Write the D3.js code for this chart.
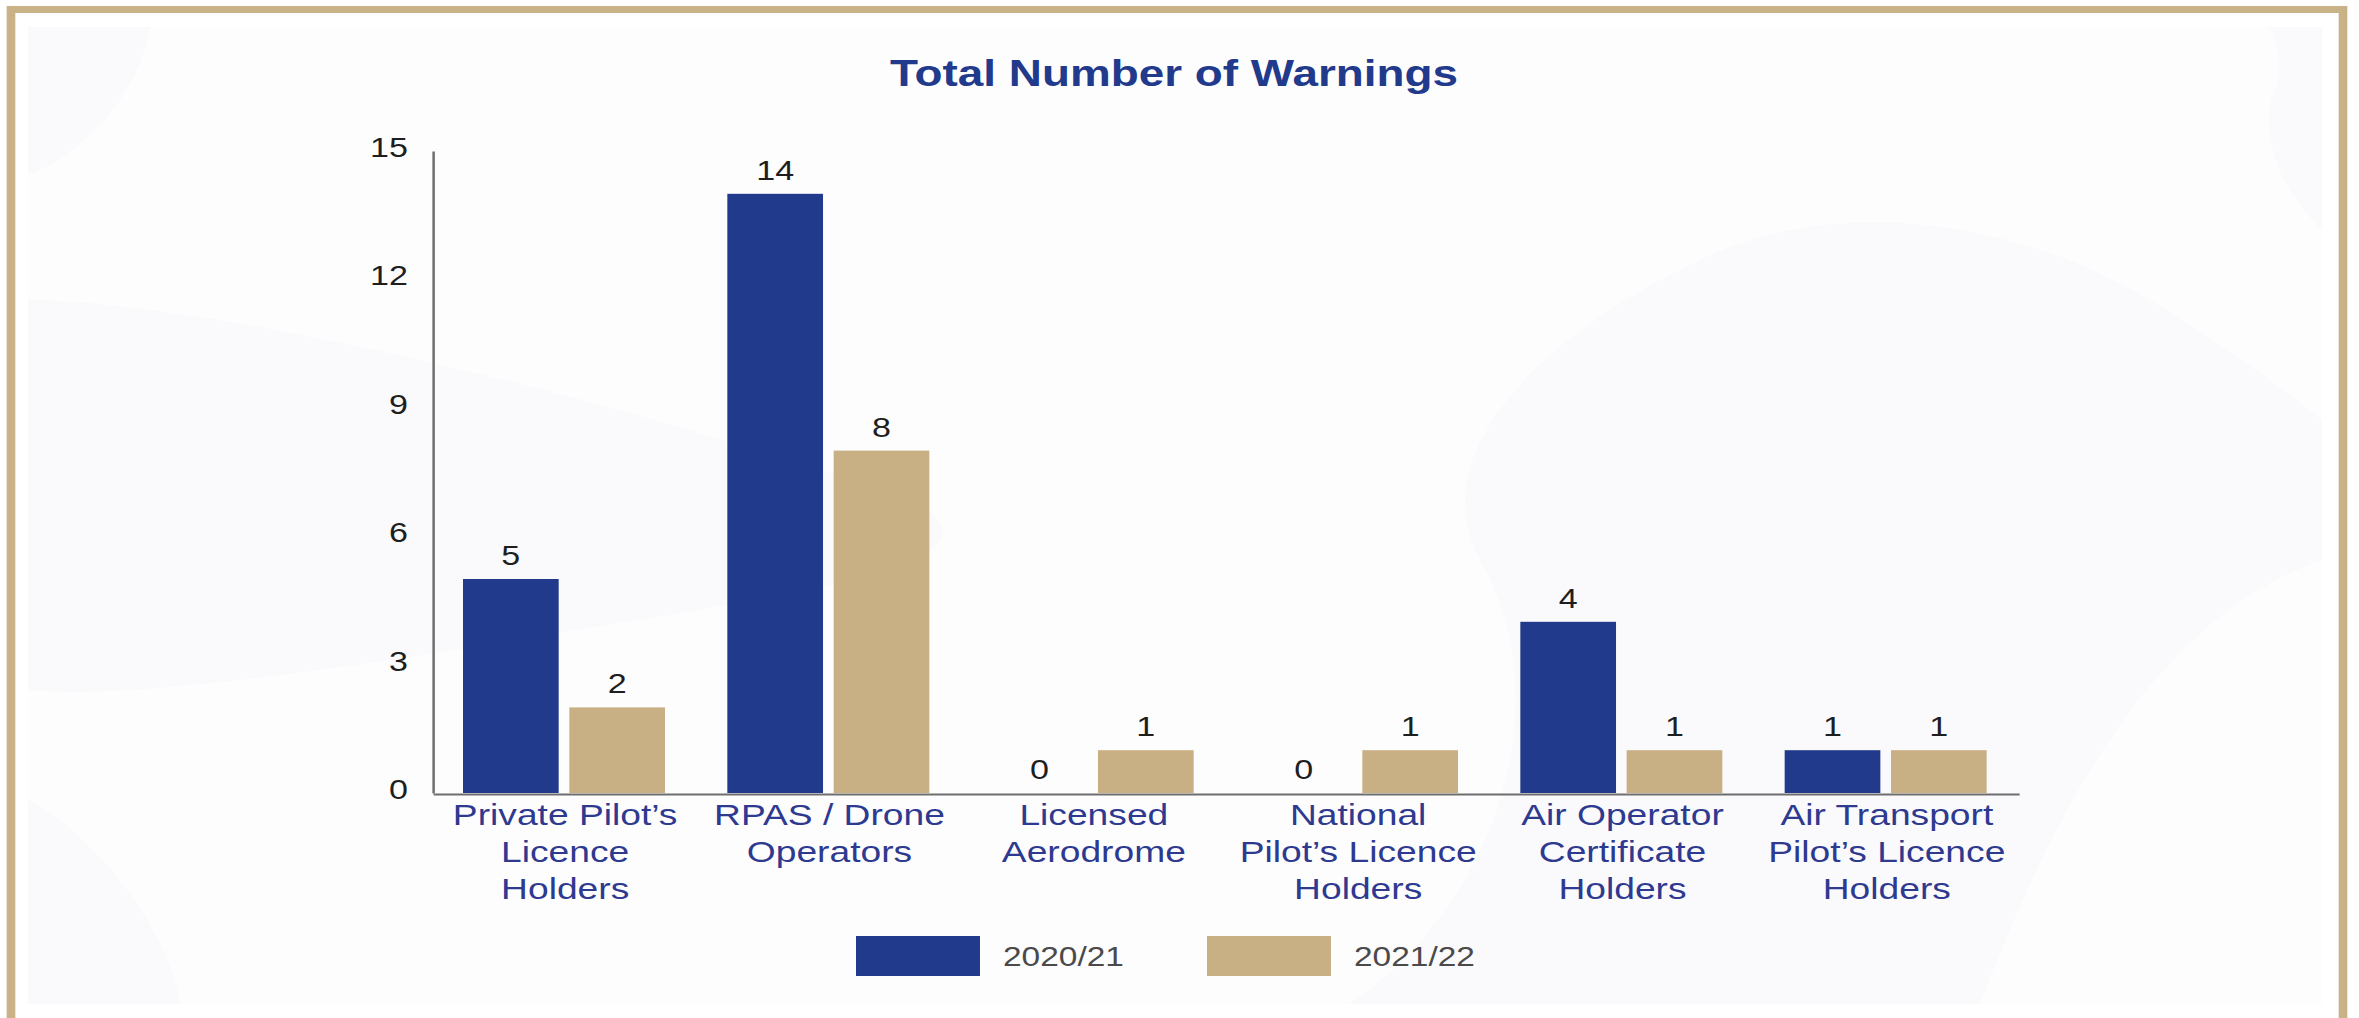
<!DOCTYPE html>
<html>
<head>
<meta charset="utf-8">
<script src="https://cdn.jsdelivr.net/npm/d3@7"></script>
<style>
  html, body { margin: 0; padding: 0; background: #ffffff; }
  svg { display: block; }
  text { font-family: "Liberation Sans", Arial, sans-serif; }
</style>
</head>
<body>
<div id="chart"></div>
<script>
// ---- data ----
const categories = [
  "Private Pilot’s Licence Holders",
  "RPAS / Drone Operators",
  "Licensed Aerodrome",
  "National Pilot’s Licence Holders",
  "Air Operator Certificate Holders",
  "Air Transport Pilot’s Licence Holders"
];
const categoryLines = [
  ["Private Pilot’s", "Licence", "Holders"],
  ["RPAS / Drone", "Operators"],
  ["Licensed", "Aerodrome"],
  ["National", "Pilot’s Licence", "Holders"],
  ["Air Operator", "Certificate", "Holders"],
  ["Air Transport", "Pilot’s Licence", "Holders"]
];
const seriesNames = ["2020/21", "2021/22"];
const values2020 = [5, 14, 0, 0, 4, 1];
const values2021 = [2, 8, 1, 1, 1, 1];
const yTicks = [0, 3, 6, 9, 12, 15];
const chartTitle = "Total Number of Warnings";

// ---- page geometry ----
const W = 2359, H = 1018;
const SX = 1.24;              // horizontal stretch of the drawing
const VW = W / SX;            // viewBox width
const fx = px => px / SX;     // page x -> viewBox x

const colors = { "2020/21": "#223A8B", "2021/22": "#C9B084" };

const svg = d3.select("#chart").append("svg")
  .attr("width", W).attr("height", H)
  .attr("viewBox", `0 0 ${VW} ${H}`)
  .attr("preserveAspectRatio", "none");

// faint decorative panel
const panel = svg.append("g");
panel.append("rect")
  .attr("x", fx(28)).attr("y", 27)
  .attr("width", fx(2322) - fx(28)).attr("height", 1004 - 27)
  .attr("fill", "#FDFDFE");
const waveFill = "#FAFAFC";
panel.append("path").attr("fill", waveFill)
  .attr("d", `M${fx(28)},27 L${fx(150)},27 C${fx(140)},90 ${fx(90)},150 ${fx(28)},175 Z`);
panel.append("path").attr("fill", waveFill)
  .attr("d", `M${fx(28)},${300} C${fx(160)},300 ${fx(480)},360 ${fx(820)},470 C${fx(1000)},520 ${fx(1000)},560 ${fx(700)},610 C${fx(400)},660 ${fx(160)},700 ${fx(28)},690 Z`);
panel.append("path").attr("fill", waveFill)
  .attr("d", `M${fx(28)},800 C${fx(90)},830 ${fx(170)},930 ${fx(180)},1004 L${fx(28)},1004 Z`);
panel.append("path").attr("fill", waveFill)
  .attr("d", `M${fx(1700)},260 C${fx(1820)},200 ${fx(2000)},210 ${fx(2150)},300 C${fx(2250)},360 ${fx(2322)},420 ${fx(2322)},420 L${fx(2322)},560 C${fx(2150)},620 ${fx(2050)},820 ${fx(1980)},1004 L${fx(1350)},1004 C${fx(1500)},900 ${fx(1560)},700 ${fx(1480)},560 C${fx(1420)},450 ${fx(1550)},330 ${fx(1700)},260 Z`);
panel.append("path").attr("fill", waveFill)
  .attr("d", `M${fx(2270)},27 L${fx(2322)},27 L${fx(2322)},230 C${fx(2270)},180 ${fx(2260)},120 ${fx(2275)},90 C${fx(2285)},60 ${fx(2275)},40 ${fx(2270)},27 Z`);

// gold frame
svg.append("rect")
  .attr("x", fx(11)).attr("y", 9.5)
  .attr("width", fx(2343) - fx(11)).attr("height", 1040)
  .attr("fill", "none")
  .attr("stroke", "#C9B286")
  .attr("stroke-width", 7);

// ---- scales ----
const plotLeft = 433, plotRight = 2019;
const yBase = 793, yTop = 151;

const x0 = d3.scaleBand()
  .domain(categories)
  .range([fx(plotLeft), fx(plotRight)])
  .padding(0);

const x1 = d3.scaleBand()
  .domain(seriesNames)
  .range([fx(30), fx(232)])
  .paddingInner(0.1)
  .paddingOuter(0);

const y = d3.scaleLinear().domain([0, 15]).range([yBase, yTop]);

const rows = categories.map((c, i) => ({
  category: c,
  lines: categoryLines[i],
  values: [
    { series: seriesNames[0], value: values2020[i] },
    { series: seriesNames[1], value: values2021[i] }
  ]
}));

// ---- title ----
svg.append("text")
  .attr("x", fx(1174)).attr("y", 86)
  .attr("text-anchor", "middle")
  .attr("font-size", 37)
  .attr("font-weight", "bold")
  .attr("fill", "#223A8B")
  .text(chartTitle);

// ---- y axis ----
const yAxis = svg.append("g")
  .attr("transform", `translate(${fx(plotLeft)},0)`)
  .call(d3.axisLeft(y).tickValues(yTicks).tickSize(0).tickPadding(fx(25)));
yAxis.select(".domain").attr("stroke", "#6E6E6E").attr("stroke-width", 2);
yAxis.selectAll(".tick text")
  .attr("font-size", 27.5)
  .attr("fill", "#1E1E1E")
  .attr("dy", "0.2em")
  .style("font-family", '"Liberation Sans", Arial, sans-serif');

// ---- x axis ----
const xAxis = svg.append("g")
  .attr("transform", `translate(0,${yBase + 1})`)
  .call(d3.axisBottom(x0).tickSize(0).tickFormat(""));
xAxis.select(".domain").attr("stroke", "#6E6E6E").attr("stroke-width", 2);

const labelG = svg.append("g");
rows.forEach(r => {
  const t = labelG.append("text")
    .attr("x", x0(r.category) + x0.bandwidth() / 2)
    .attr("y", 825)
    .attr("text-anchor", "middle")
    .attr("font-size", 30)
    .attr("fill", "#2E3990");
  r.lines.forEach((ln, k) => {
    t.append("tspan")
      .attr("x", x0(r.category) + x0.bandwidth() / 2)
      .attr("y", 825 + k * 37)
      .text(ln);
  });
});

// ---- bars ----
const groups = svg.append("g").selectAll("g")
  .data(rows).join("g")
  .attr("transform", d => `translate(${x0(d.category)},0)`);

groups.selectAll("rect")
  .data(d => d.values).join("rect")
  .attr("x", d => x1(d.series))
  .attr("width", x1.bandwidth())
  .attr("y", d => y(d.value))
  .attr("height", d => y(0) - y(d.value))
  .attr("fill", d => colors[d.series]);

groups.selectAll("text.val")
  .data(d => d.values).join("text")
  .attr("class", "val")
  .attr("x", d => x1(d.series) + x1.bandwidth() / 2)
  .attr("y", d => y(d.value) - 14)
  .attr("text-anchor", "middle")
  .attr("font-size", 27.5)
  .attr("fill", "#1E1E1E")
  .text(d => d.value);

// ---- legend ----
const legendItems = [
  { name: seriesNames[0], sx: 856 },
  { name: seriesNames[1], sx: 1207 }
];
const lg = svg.append("g");
legendItems.forEach(it => {
  lg.append("rect")
    .attr("x", fx(it.sx)).attr("y", 936)
    .attr("width", fx(124)).attr("height", 40)
    .attr("fill", colors[it.name]);
  lg.append("text")
    .attr("x", fx(it.sx + 147)).attr("y", 966)
    .attr("font-size", 27)
    .attr("fill", "#4A4A4A")
    .text(it.name);
});
</script>
</body>
</html>
